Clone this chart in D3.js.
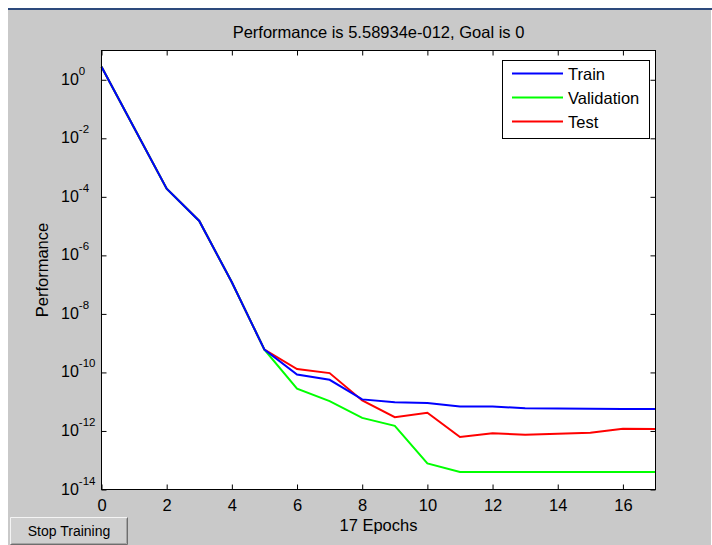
<!DOCTYPE html>
<html>
<head>
<meta charset="utf-8">
<script src="https://cdn.jsdelivr.net/npm/d3@7"></script>
<style>
  body { margin: 0; background: #fff; }
  svg { display: block; font-family: "Liberation Sans", Arial, sans-serif; }
</style>
</head>
<body>
<div id="chart"></div>
<script>
// values (log scale)
const epochs = [0, 1, 2, 3, 4, 5, 6, 7, 8, 9, 10, 11, 12, 13, 14, 15, 16, 17];
const train = [2.8, 2.3e-2, 1.9e-4, 1.5e-5, 1.2e-7, 6.0e-10, 8.5e-11, 5.6e-11, 1.2e-11, 9.5e-12, 9.1e-12,
    6.8e-12, 6.8e-12, 6.0e-12, 5.8e-12, 5.7e-12, 5.6e-12, 5.59e-12];
const validation = [2.8, 2.3e-2, 1.9e-4, 1.5e-5, 1.2e-7, 6.0e-10, 2.8e-11, 1.05e-11, 2.8e-12, 1.5e-12, 7.8e-14,
    4.0e-14, 4.0e-14, 4.0e-14, 4.0e-14, 4.0e-14, 4.0e-14, 4.0e-14];
const test = [2.8, 2.3e-2, 1.9e-4, 1.5e-5, 1.2e-7, 6.0e-10, 1.3e-10, 9.5e-11, 1.1e-11, 2.95e-12, 4.2e-12,
    6.2e-13, 8.3e-13, 7.4e-13, 8.1e-13, 8.7e-13, 1.2e-12, 1.17e-12];
const xTicks = [0, 2, 4, 6, 8, 10, 12, 14, 16];
const yExponents = [0, -2, -4, -6, -8, -10, -12, -14];
const seriesNames = ["Train", "Validation", "Test"];
const seriesColors = ["#0000ff", "#00ff00", "#ff0000"];

const width = 712, height = 545;
const plotL = 101.5, plotR = 655.5, plotT = 50.5, plotB = 489.5;

const svg = d3.select("#chart").append("svg")
    .attr("width", width)
    .attr("height", height);

// figure background + window strip
svg.append("rect").attr("x", 8).attr("y", 8).attr("width", 704).attr("height", 2).attr("fill", "#2d4a7c");
svg.append("rect").attr("x", 8).attr("y", 10).attr("width", 703).attr("height", height - 10).attr("fill", "#c9c9c9");

const x = d3.scaleLinear().domain([0, 17]).range([plotL, plotR]);
const y = d3.scaleLog().domain([1e-14, 1e1]).range([plotB, plotT]);

svg.append("rect")
    .attr("x", plotL).attr("y", plotT)
    .attr("width", plotR - plotL).attr("height", plotB - plotT)
    .attr("fill", "#fff");

// axes with inward ticks on all four sides
const fontSize = 16.5;
const xAxis = svg.append("g")
    .attr("transform", `translate(0,${plotB})`)
    .call(d3.axisBottom(x).tickValues(xTicks).tickSize(-5).tickSizeOuter(0).tickPadding(10));
xAxis.selectAll("text")
    .attr("font-size", fontSize).attr("fill", "#000");
xAxis.attr("font-family", null).attr("font-size", null);

svg.append("g")
    .attr("transform", `translate(0,${plotT})`)
    .call(d3.axisTop(x).tickValues(xTicks).tickSize(-5).tickSizeOuter(0).tickFormat(""));

const yVals = yExponents.map(e => Math.pow(10, e));
svg.append("g")
    .attr("transform", `translate(${plotL},0)`)
    .call(d3.axisLeft(y).tickValues(yVals).tickSize(-5).tickSizeOuter(0).tickFormat(""));
svg.append("g")
    .attr("transform", `translate(${plotR},0)`)
    .call(d3.axisRight(y).tickValues(yVals).tickSize(-5).tickSizeOuter(0).tickFormat(""));

svg.selectAll(".domain").remove();
svg.selectAll(".tick line").attr("stroke", "#000");

// y tick labels: 10 with superscript exponent
const yLab = svg.append("g").attr("font-size", 16).attr("fill", "#000");
yExponents.forEach(e => {
    const t = yLab.append("text")
        .attr("x", 61)
        .attr("y", y(Math.pow(10, e)) + 5);
    t.append("tspan").text("10");
    t.append("tspan").attr("dy", -10).attr("font-size", 11.5).text(e);
});

// series (test first, train on top)
const line = d3.line()
    .x((d, i) => x(epochs[i]))
    .y(d => y(d));

const seriesData = [train, validation, test];
[2, 1, 0].forEach(k => {
    svg.append("path")
        .datum(seriesData[k])
        .attr("fill", "none")
        .attr("stroke", seriesColors[k])
        .attr("stroke-width", 2)
        .attr("d", line);
});

// axes box
svg.append("rect")
    .attr("x", plotL).attr("y", plotT)
    .attr("width", plotR - plotL).attr("height", plotB - plotT)
    .attr("fill", "none").attr("stroke", "#000");

// legend
const legend = svg.append("g");
legend.append("rect")
    .attr("x", 502.5).attr("y", 60.5).attr("width", 147).attr("height", 78)
    .attr("fill", "#fff").attr("stroke", "#000");
seriesNames.forEach((name, i) => {
    const ly = 73.5 + i * 24;
    legend.append("line")
        .attr("x1", 512).attr("x2", 563).attr("y1", ly).attr("y2", ly)
        .attr("stroke", seriesColors[i]).attr("stroke-width", 2);
    legend.append("text")
        .attr("x", 568).attr("y", ly + 6)
        .attr("font-size", fontSize).attr("fill", "#000")
        .text(name);
});

// title and labels
svg.append("text")
    .attr("x", (plotL + plotR) / 2).attr("y", 38)
    .attr("text-anchor", "middle").attr("font-size", fontSize)
    .text("Performance is 5.58934e-012, Goal is 0");

svg.append("text")
    .attr("x", (plotL + plotR) / 2).attr("y", 531)
    .attr("text-anchor", "middle").attr("font-size", fontSize)
    .text(epochs.length - 1 + " Epochs");

svg.append("text")
    .attr("transform", `translate(48,${(plotT + plotB) / 2}) rotate(-90)`)
    .attr("text-anchor", "middle").attr("font-size", fontSize)
    .text("Performance");

// stop training button
const btn = svg.append("g");
btn.append("rect").attr("x", 10).attr("y", 517).attr("width", 118).attr("height", 28).attr("fill", "#cfcfcf");
btn.append("path").attr("d", "M10.5,544V517.5H127.5").attr("fill", "none").attr("stroke", "#f4f4f4");
btn.append("path").attr("d", "M10.5,544.5H127.5V517.5").attr("fill", "none").attr("stroke", "#6e6e6e");
btn.append("path").attr("d", "M11.5,543.5H126.5V518.5").attr("fill", "none").attr("stroke", "#a4a4a4");
btn.append("text")
    .attr("x", 69).attr("y", 536)
    .attr("text-anchor", "middle").attr("font-size", 14)
    .text("Stop Training");
</script>
</body>
</html>
